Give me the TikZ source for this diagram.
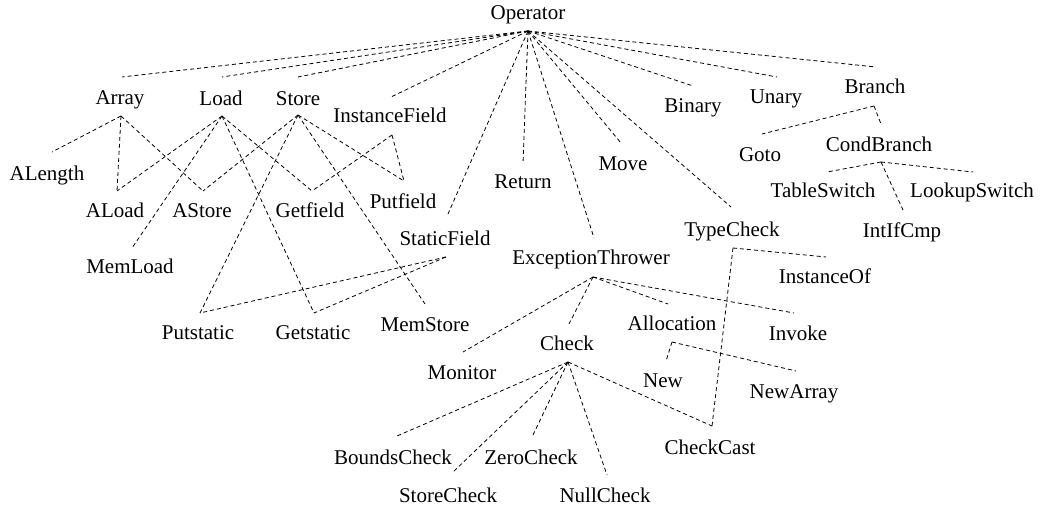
\documentclass[tikz,border=0pt]{standalone}
\usepackage{fontspec}
\setmainfont{Liberation Serif}
\newcommand{\mkleaf}[6]{%
  \node[lbl] (#1) at (#2,{-#3-6}) {#4};
  \coordinate (#1-t) at (#5,-#6);}
\newcommand{\mkinner}[8]{%
  \node[lbl] (#1) at (#2,{-#3-6}) {#4};
  \coordinate (#1-t) at (#5,-#6);
  \coordinate (#1-b) at (#7,-#8);}
\begin{document}
\begin{tikzpicture}[x=1pt,y=1pt,
  lbl/.style={anchor=base,inner sep=0pt,font=\fontsize{21}{25}\selectfont},
  edge/.style={draw=black,line width=0.8pt,dash pattern=on 4pt off 3pt}]
\useasboundingbox (0,0) rectangle (1041,-510);
% root
\node[lbl] (Operator) at (528,{-14-6}) {Operator};
\coordinate (Operator-b) at (528,-31);
% first level
\mkinner{Array}{120}{99}{Array}{122}{77}{121}{116}
\mkinner{Load}{221}{100}{Load}{222}{77}{222}{116}
\mkinner{Store}{298}{100}{Store}{298}{77}{298}{115}
\mkinner{InstanceField}{390}{117}{InstanceField}{391}{97}{392}{135}
\mkinner{StaticField}{445}{240}{StaticField}{448}{214}{446}{257}
\mkleaf{Return}{523}{183}{Return}{523}{163}
\mkleaf{Move}{623}{165}{Move}{621}{143}
\mkleaf{Binary}{693}{107}{Binary}{693}{86}
\mkleaf{Unary}{776}{98}{Unary}{777}{77}
\mkinner{Branch}{875}{88}{Branch}{876}{67}{874}{106}
\mkinner{TypeCheck}{732}{231}{TypeCheck}{731}{207}{733}{248}
\mkinner{ExceptionThrower}{591}{259}{ExceptionThrower}{594}{238}{593}{277}
% array / load / store
\mkleaf{ALength}{47}{175}{ALength}{52}{152}
\mkleaf{ALoad}{115}{212}{ALoad}{117}{191}
\mkleaf{AStore}{202}{212}{AStore}{203}{191}
\mkleaf{Getfield}{310}{212}{Getfield}{312}{191}
\mkleaf{Putfield}{403}{203}{Putfield}{404}{181}
\mkleaf{MemLoad}{130}{268}{MemLoad}{132}{248}
\mkleaf{Putstatic}{198}{334}{Putstatic}{200}{313}
\mkleaf{Getstatic}{313}{334}{Getstatic}{314}{313}
\mkleaf{MemStore}{425}{326}{MemStore}{425}{304}
% branch
\mkleaf{Goto}{760}{156}{Goto}{762}{134}
\mkinner{CondBranch}{879}{146}{CondBranch}{881}{124}{881}{162}
\mkleaf{TableSwitch}{823}{192}{TableSwitch}{827}{172}
\mkleaf{LookupSwitch}{972}{192}{LookupSwitch}{973}{172}
\mkleaf{IntIfCmp}{902}{232}{IntIfCmp}{903}{210}
% typecheck
\mkleaf{InstanceOf}{825}{278}{InstanceOf}{826}{257}
\mkleaf{CheckCast}{710}{448}{CheckCast}{712}{426}
% exception thrower
\mkleaf{Monitor}{462}{373}{Monitor}{463}{352}
\mkinner{Check}{567}{345}{Check}{569}{324}{568}{362}
\mkinner{Allocation}{672}{325}{Allocation}{668}{304}{672}{342}
\mkleaf{Invoke}{798}{335}{Invoke}{794}{313}
\mkleaf{New}{663}{382}{New}{666}{361}
\mkleaf{NewArray}{794}{392}{NewArray}{796}{371}
\mkleaf{BoundsCheck}{393}{458}{BoundsCheck}{397}{436}
\mkleaf{StoreCheck}{448}{496}{StoreCheck}{452}{473}
\mkleaf{ZeroCheck}{531}{458}{ZeroCheck}{532}{437}
\mkleaf{NullCheck}{605}{496}{NullCheck}{607}{475}
% connectors
\foreach \c in {Array,Load,Store,InstanceField,StaticField,Return,Move,Binary,Unary,Branch,TypeCheck,ExceptionThrower}
  \draw[edge] (Operator-b) -- (\c-t);
\foreach \c in {ALength,ALoad,AStore}
  \draw[edge] (Array-b) -- (\c-t);
\foreach \c in {ALoad,MemLoad,Getfield,Getstatic}
  \draw[edge] (Load-b) -- (\c-t);
\foreach \c in {AStore,MemStore,Putfield,Putstatic}
  \draw[edge] (Store-b) -- (\c-t);
\foreach \c in {Getfield,Putfield}
  \draw[edge] (InstanceField-b) -- (\c-t);
\foreach \c in {Getstatic,Putstatic}
  \draw[edge] (StaticField-b) -- (\c-t);
\foreach \c in {Goto,CondBranch}
  \draw[edge] (Branch-b) -- (\c-t);
\foreach \c in {TableSwitch,LookupSwitch,IntIfCmp}
  \draw[edge] (CondBranch-b) -- (\c-t);
\foreach \c in {InstanceOf,CheckCast}
  \draw[edge] (TypeCheck-b) -- (\c-t);
\foreach \c in {Monitor,Check,Allocation,Invoke}
  \draw[edge] (ExceptionThrower-b) -- (\c-t);
\foreach \c in {New,NewArray}
  \draw[edge] (Allocation-b) -- (\c-t);
\foreach \c in {BoundsCheck,StoreCheck,ZeroCheck,NullCheck,CheckCast}
  \draw[edge] (Check-b) -- (\c-t);
\end{tikzpicture}
\end{document}
